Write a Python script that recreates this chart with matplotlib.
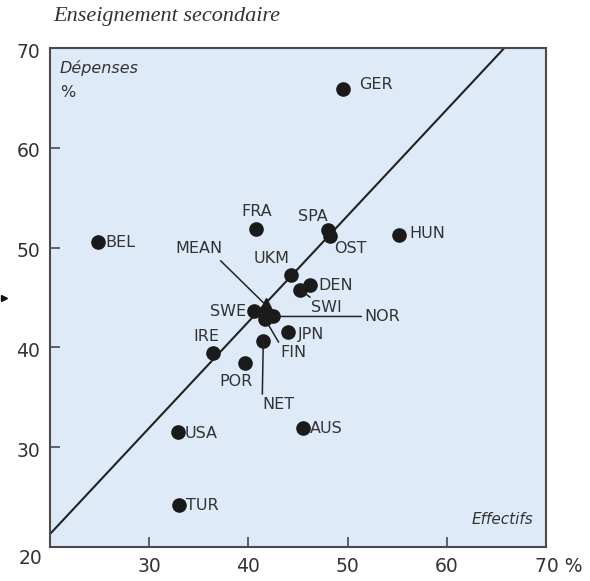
import matplotlib
matplotlib.use("Agg")
import numpy as np
from matplotlib import pyplot as plt

# ----------------------------------------------------------------------
# Données
# ----------------------------------------------------------------------
pays = ["GER", "HUN", "SPA", "OST", "FRA", "BEL", "UKM", "DEN", "SWI",
        "SWE", "NOR", "FIN", "JPN", "IRE", "POR", "NET", "USA", "AUS", "TUR"]
effectifs = [49.5, 55.2, 48.0, 48.2, 40.8, 24.8, 44.3, 46.2, 45.2,
             40.6, 42.5, 41.7, 44.0, 36.4, 39.7, 41.5, 32.9, 45.5, 33.0]
depenses = [65.9, 51.3, 51.8, 51.2, 51.9, 50.6, 47.3, 46.3, 45.8,
            43.6, 43.1, 42.8, 41.5, 39.4, 38.4, 40.6, 31.5, 31.9, 24.2]

moyenne_x = 41.8
moyenne_y = 44.2

droite_x = [20, 65.8]
droite_y = [21.3, 70]

xticks = [30, 40, 50, 60]
xlabels = ["30", "40", "50", "60"]
yticks = [30, 40, 50, 60]
ylabels = ["30", "40", "50", "60", "70"]
ylabel_pos = [30, 40, 50, 60, 70]

# position des étiquettes (décalage en pixels, alignement)
decalages = {
    "GER": (16, 4, "left"), "HUN": (10, 1, "left"), "SPA": (-15, 13, "center"),
    "OST": (21, -13, "center"), "FRA": (0, 17, "center"), "BEL": (8, -1, "left"),
    "UKM": (-19, 16, "center"), "DEN": (8, -1, "left"), "SWI": (26, -18, "center"),
    "SWE": (-8, 0, "right"), "NOR": (91, 0, "left"), "FIN": (15, -33, "left"),
    "JPN": (10, -2, "left"), "IRE": (-6, 17, "center"), "POR": (-9, -18, "center"),
    "NET": (-1, -63, "left"), "USA": (7, -1, "left"), "AUS": (7, 0, "left"),
    "TUR": (7, 0, "left"),
}
avec_trait = {"SWI": (0.1, 1), "NOR": (0, 0.5), "FIN": (0, 1), "NET": (0, 1)}

couleur_texte = "#333333"
couleur_point = "#1a1a1a"
couleur_cadre = "#4a4a4a"

# ----------------------------------------------------------------------
# Graphique
# ----------------------------------------------------------------------
fig = plt.figure(figsize=(5.9, 5.81), dpi=100)
ax = fig.add_axes([50 / 590, 34 / 581, 496 / 590, 499 / 581])
ax.set_facecolor("#deeaf8")
ax.set_xlim(20, 70)
ax.set_ylim(20, 70)

for s in ax.spines.values():
    s.set_color(couleur_cadre)
    s.set_linewidth(1.5)

ax.set_xticks(xticks)
ax.set_yticks(yticks)
ax.tick_params(direction="in", length=7.5, width=1.2, color=couleur_cadre,
               labelbottom=False, labelleft=False)

# droite
ax.plot(droite_x, droite_y, color="#222222", lw=1.5, zorder=2)

# points
ax.plot(effectifs, depenses, "o", ms=9.5, color=couleur_point, zorder=3)
ax.plot([moyenne_x], [moyenne_y], "^", ms=9.5, color=couleur_point, zorder=3)

for p, xv, yv in zip(pays, effectifs, depenses):
    dx, dy, ha = decalages[p]
    props = None
    if p in avec_trait:
        props = dict(arrowstyle="-", color="#222222", lw=1.1,
                     shrinkA=0, shrinkB=0, relpos=avec_trait[p])
    ax.annotate(p, (xv, yv), xytext=(dx, dy), textcoords="offset pixels",
                ha=ha, va="center", fontsize=11.5, color=couleur_texte,
                arrowprops=props, zorder=4)

ax.annotate("MEAN", (moyenne_x, moyenne_y), xytext=(-67, 57),
            textcoords="offset pixels", ha="center", va="center",
            fontsize=11.5, color=couleur_texte,
            arrowprops=dict(arrowstyle="-", color="#222222", lw=1.1,
                            shrinkA=2, shrinkB=0, relpos=(0.85, 0)))

# étiquettes des axes
for v, lab in zip(ylabel_pos, ylabels):
    ax.annotate(lab, (0, v), xycoords=("axes fraction", "data"),
                xytext=(-10, -4), textcoords="offset pixels",
                ha="right", va="center", fontsize=13.5, color=couleur_texte,
                annotation_clip=False)
ax.annotate("20", (0, 20), xycoords=("axes fraction", "data"),
            xytext=(-8, -12), textcoords="offset pixels",
            ha="right", va="center", fontsize=13.5, color=couleur_texte,
            annotation_clip=False)

for v, lab in zip(xticks, xlabels):
    ax.annotate(lab, (v, 0), xycoords=("data", "axes fraction"),
                xytext=(0, -20), textcoords="offset pixels",
                ha="center", va="center", fontsize=13.5, color=couleur_texte,
                annotation_clip=False)
ax.annotate("70 %", (70, 0), xycoords=("data", "axes fraction"),
            xytext=(-11, -20), textcoords="offset pixels",
            ha="left", va="center", fontsize=13.5, color=couleur_texte,
            annotation_clip=False)

ax.text(0.02, 0.975, "Dépenses", transform=ax.transAxes, style="italic",
        fontsize=11.5, color=couleur_texte, ha="left", va="top")
ax.text(0.02, 0.925, "%", transform=ax.transAxes,
        fontsize=11.5, color=couleur_texte, ha="left", va="top")
ax.text(0.975, 0.055, "Effectifs", transform=ax.transAxes, style="italic",
        fontsize=11, color=couleur_texte, ha="right", va="center")

fig.text(53 / 590, 1 - 17 / 581, "Enseignement secondaire",
         family="Liberation Serif", style="italic", fontsize=16,
         color="#333333", ha="left", va="center")

# petite flèche à gauche
ax.plot([-0.092], [45.0], ">", ms=5, color="#111111",
        transform=ax.get_yaxis_transform(), clip_on=False)

plt.savefig("out.png", dpi=100)
